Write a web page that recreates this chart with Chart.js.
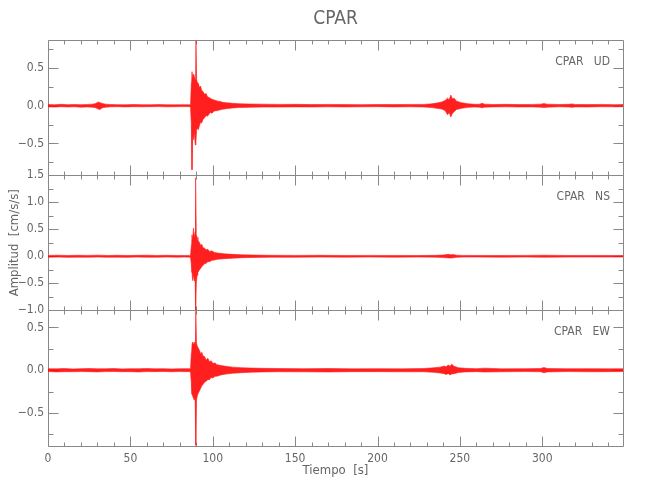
<!DOCTYPE html>
<html>
<head>
<meta charset="utf-8">
<title>CPAR</title>
<script src="https://cdn.jsdelivr.net/npm/chart.js@4.4.1/dist/chart.umd.min.js"></script>
<style>
    html, body { margin: 0; padding: 0; background: #fff; }
    #wrap { width: 650px; height: 500px; }
</style>
</head>
<body>
<div id="wrap"><canvas id="chart" width="650" height="500"></canvas></div>
<script>
// Tick labels
const xTicks = [0, 50, 100, 150, 200, 250, 300];
const udTicks = [-0.5, 0.0, 0.5];
const nsTicks = [-1.0, -0.5, 0.0, 0.5, 1.0, 1.5];
const ewTicks = [-0.5, 0.0, 0.5];

// Panel names (top to bottom)
const panelNames = ['CPAR   UD', 'CPAR   NS', 'CPAR   EW'];

// UD component: time [s] and upper/lower envelope of the trace [cm/s/s]
const udTime = [
    0, 4, 8, 12, 16, 20, 24, 27, 29, 30.5, 31.5, 33, 35, 38,
    42, 47, 52, 57, 62, 67, 72, 77, 82, 86.5,
    87, 87.4, 87.8, 88.3, 88.8, 89.4, 89.8, 90.2, 90.7, 91.2, 92, 92.6, 93.3, 94, 95,
    96, 96.8, 98.5, 99.5, 101, 103, 104.5, 106, 108, 112, 116, 122, 130, 140, 150, 160, 170, 180,
    190, 200, 210, 220, 228, 233, 236, 239, 241, 242.5, 243.5, 244.5, 245.5, 246.5, 248, 251,
    255, 259, 262, 263.5, 265, 270, 278, 286, 294, 299, 301, 303, 310, 316,
    318, 320, 328, 336, 344, 349
];
const udUpper = [
    0.016, 0.013, 0.018, 0.014, 0.016, 0.013, 0.017, 0.02, 0.03, 0.05, 0.04, 0.03, 0.02, 0.016,
    0.014, 0.013, 0.016, 0.013, 0.012, 0.015, 0.013, 0.012, 0.013, 0.013,
    0.3, 0.45, 0.36, 0.42, 0.39, 0.33, 0.86, 0.35, 0.3, 0.3, 0.24, 0.26, 0.2, 0.19, 0.15,
    0.16, 0.12, 0.1, 0.085, 0.075, 0.06, 0.057, 0.045, 0.04, 0.032, 0.026, 0.022, 0.02, 0.017, 0.018, 0.015, 0.017, 0.015,
    0.014, 0.016, 0.015, 0.017, 0.017, 0.025, 0.035, 0.05, 0.07, 0.1, 0.08, 0.14, 0.09, 0.1, 0.06, 0.04,
    0.025, 0.018, 0.02, 0.032, 0.02, 0.016, 0.018, 0.015, 0.017, 0.02, 0.028, 0.02, 0.016, 0.018,
    0.024, 0.016, 0.015, 0.017, 0.014, 0.015
];
const udLower = [
    -0.016, -0.018, -0.013, -0.017, -0.015, -0.019, -0.016, -0.02, -0.028, -0.045, -0.05, -0.028, -0.02, -0.015,
    -0.013, -0.016, -0.013, -0.015, -0.013, -0.012, -0.015, -0.013, -0.012, -0.013,
    -0.25, -0.85, -0.4, -0.45, -0.35, -0.52, -0.48, -0.32, -0.3, -0.32, -0.26, -0.22, -0.23, -0.185, -0.16,
    -0.13, -0.14, -0.09, -0.1, -0.07, -0.065, -0.055, -0.048, -0.04, -0.03, -0.024, -0.022, -0.018, -0.018, -0.016, -0.017, -0.015, -0.016,
    -0.015, -0.013, -0.016, -0.015, -0.017, -0.025, -0.035, -0.045, -0.065, -0.12, -0.09, -0.15, -0.1, -0.08, -0.05, -0.035,
    -0.022, -0.017, -0.02, -0.028, -0.019, -0.016, -0.015, -0.017, -0.016, -0.019, -0.025, -0.019, -0.015, -0.017,
    -0.022, -0.016, -0.017, -0.013, -0.015, -0.013
];

// NS component
const nsTime = [
    0, 6, 12, 18, 24, 30, 36, 42, 48, 54, 60, 66, 72, 78, 83, 86.5,
    87, 87.4, 87.8, 88.3, 88.8, 89.3, 89.6, 90, 90.5, 91, 92, 92.7, 93.4, 94, 95,
    96, 97, 98, 99.5, 101, 103, 107, 112, 118, 125, 135, 150, 165, 180, 195, 210,
    225, 235, 240, 243, 244.5, 246, 248, 252, 260, 275, 290, 301, 315, 330, 349
];
const nsUpper = [
    0.016, 0.02, 0.014, 0.018, 0.016, 0.021, 0.015, 0.018, 0.014, 0.017, 0.02, 0.015, 0.018, 0.014, 0.016, 0.016,
    0.2, 0.4, 0.3, 0.52, 0.35, 0.45, 1.45, 0.4, 0.35, 0.3, 0.25, 0.2, 0.22, 0.16, 0.15,
    0.12, 0.13, 0.09, 0.1, 0.07, 0.06, 0.045, 0.035, 0.026, 0.022, 0.018, 0.016, 0.018, 0.014, 0.016, 0.015,
    0.014, 0.017, 0.024, 0.035, 0.028, 0.032, 0.02, 0.016, 0.015, 0.014, 0.016, 0.02, 0.014, 0.015, 0.014
];
const nsLower = [
    -0.018, -0.015, -0.02, -0.016, -0.018, -0.014, -0.018, -0.016, -0.02, -0.015, -0.017, -0.018, -0.014, -0.017, -0.015, -0.016,
    -0.15, -0.3, -0.45, -0.35, -0.46, -0.4, -1.0, -0.5, -0.35, -0.3, -0.25, -0.22, -0.19, -0.17, -0.14,
    -0.13, -0.1, -0.1, -0.075, -0.07, -0.055, -0.045, -0.035, -0.026, -0.022, -0.017, -0.018, -0.015, -0.016, -0.014, -0.016,
    -0.015, -0.016, -0.024, -0.03, -0.034, -0.028, -0.02, -0.015, -0.014, -0.016, -0.014, -0.018, -0.015, -0.014, -0.015
];

// EW component
const ewTime = [
    0, 5, 10, 15, 20, 25, 30, 35, 40, 45, 50, 55, 60, 65, 70, 75, 80, 86.5,
    87, 87.4, 87.8, 88.3, 88.8, 89.3, 89.7, 90.1, 90.6, 91.2, 92, 92.7, 93.4, 94, 95,
    96, 97, 98, 99, 100, 101.5, 102.5, 105, 108, 112, 117, 123, 130, 140, 155, 170, 185,
    200, 215, 228, 234, 238, 240.5, 241.5, 243, 244, 245, 246.5, 249, 253, 260, 265, 275, 290,
    299, 301, 303, 315, 330, 340, 349
];
const ewUpper = [
    0.018, 0.016, 0.02, 0.015, 0.018, 0.02, 0.016, 0.017, 0.02, 0.015, 0.018, 0.017, 0.02, 0.016, 0.018, 0.015, 0.017, 0.018,
    0.2, 0.3, 0.33, 0.3, 0.33, 0.3, 0.69, 0.32, 0.28, 0.26, 0.23, 0.19, 0.21, 0.17, 0.16,
    0.12, 0.14, 0.1, 0.11, 0.08, 0.085, 0.065, 0.055, 0.045, 0.036, 0.03, 0.025, 0.022, 0.02, 0.018, 0.02, 0.016,
    0.018, 0.016, 0.02, 0.028, 0.036, 0.05, 0.04, 0.06, 0.045, 0.07, 0.045, 0.03, 0.022, 0.018, 0.024, 0.016, 0.018,
    0.02, 0.032, 0.02, 0.017, 0.018, 0.016, 0.017
];
const ewLower = [
    -0.016, -0.02, -0.017, -0.018, -0.016, -0.017, -0.02, -0.016, -0.015, -0.018, -0.017, -0.02, -0.016, -0.017, -0.015, -0.018, -0.016, -0.017,
    -0.15, -0.28, -0.3, -0.33, -0.35, -0.32, -0.88, -0.35, -0.3, -0.27, -0.24, -0.21, -0.18, -0.17, -0.14,
    -0.13, -0.11, -0.11, -0.085, -0.09, -0.07, -0.07, -0.055, -0.045, -0.036, -0.03, -0.024, -0.02, -0.018, -0.019, -0.02, -0.017,
    -0.017, -0.018, -0.018, -0.025, -0.032, -0.04, -0.05, -0.04, -0.055, -0.045, -0.04, -0.028, -0.02, -0.017, -0.021, -0.018, -0.016,
    -0.018, -0.03, -0.02, -0.016, -0.018, -0.017, -0.016
];

const FONT = '"Liberation Sans Narrow", "DejaVu Sans Condensed", "Liberation Sans", sans-serif';
const TEXT_COLOR = '#666';
const AXIS_COLOR = '#888';
const TRACE_COLOR = 'rgba(255, 0, 0, 0.88)';
const TRACE_EDGE = 'rgba(255, 30, 30, 0.6)';
const panelAxes = ['yUD', 'yNS', 'yEW'];

function formatTick(value) {
    return value.toFixed(1).replace('-', '\u2212');
}

// Two lines (upper, lower) filled in between
function traceDatasets(times, upper, lower, axisId) {
    return [
        {
            data: times.map((t, i) => ({ x: t, y: upper[i] })),
            yAxisID: axisId,
            borderColor: TRACE_EDGE,
            borderWidth: 1,
            fill: false
        },
        {
            data: times.map((t, i) => ({ x: t, y: lower[i] })),
            yAxisID: axisId,
            borderColor: TRACE_EDGE,
            backgroundColor: TRACE_COLOR,
            borderWidth: 1,
            fill: '-1'
        }
    ];
}

function yAxis(min, max, ticks, extra) {
    return Object.assign({
        type: 'linear',
        position: 'left',
        stack: 'panels',
        stackWeight: 1,
        min: min,
        max: max,
        grid: { display: false, drawTicks: false },
        border: { display: false },
        afterBuildTicks: scale => { scale.ticks = ticks.map(v => ({ value: v })); },
        afterFit: scale => { scale.width = 42; },
        ticks: {
            autoSkip: false,
            padding: 4,
            color: TEXT_COLOR,
            font: { family: FONT, size: 12 },
            callback: v => formatTick(v)
        }
    }, extra || {});
}

// Frames and inward ticks on all four sides of each panel, plus panel names
const panelFrames = {
    id: 'panelFrames',
    beforeDatasetsDraw(chart) {
        const ctx = chart.ctx;
        const area = chart.chartArea;
        const xs = chart.scales.x;
        const left = Math.round(area.left) + 0.5;
        const right = Math.round(area.right) + 0.5;
        ctx.save();
        ctx.strokeStyle = AXIS_COLOR;
        ctx.lineWidth = 1;
        panelAxes.forEach((id, p) => {
            const ys = chart.scales[id];
            const top = Math.round(ys.top) + 0.5;
            const bottom = Math.round(ys.bottom) + 0.5;
            ctx.beginPath();
            ctx.rect(left, top, right - left, bottom - top);
            // time ticks (every 10 s, long every 50 s)
            for (let t = 0; t <= xs.max; t += 10) {
                const px = Math.round(xs.getPixelForValue(t)) + 0.5;
                const len = t % 50 === 0 ? 10 : 4;
                ctx.moveTo(px, top); ctx.lineTo(px, top + len);
                ctx.moveTo(px, bottom); ctx.lineTo(px, bottom - len);
            }
            // amplitude ticks (every 0.25, long every 0.5)
            const start = Math.ceil(ys.min / 0.25) * 0.25;
            for (let v = start; v <= ys.max + 1e-9; v += 0.25) {
                const py = Math.round(ys.getPixelForValue(v)) + 0.5;
                const major = Math.abs(v / 0.5 - Math.round(v / 0.5)) < 1e-6;
                const len = major ? 10 : 5;
                ctx.moveTo(left, py); ctx.lineTo(left + len, py);
                ctx.moveTo(right, py); ctx.lineTo(right - len, py);
            }
            ctx.stroke();

            ctx.fillStyle = TEXT_COLOR;
            ctx.font = '12px ' + FONT;
            ctx.textAlign = 'right';
            ctx.textBaseline = 'middle';
            ctx.fillText(panelNames[p], area.right - 13, ys.top + 22);
        });
        ctx.restore();
    }
};

const ctx = document.getElementById('chart').getContext('2d');
new Chart(ctx, {
    type: 'line',
    data: {
        datasets: [
            ...traceDatasets(udTime, udUpper, udLower, 'yUD'),
            ...traceDatasets(nsTime, nsUpper, nsLower, 'yNS'),
            ...traceDatasets(ewTime, ewUpper, ewLower, 'yEW')
        ]
    },
    options: {
        responsive: false,
        animation: false,
        events: [],
        layout: { padding: { top: 0, left: 6, right: 27, bottom: 20 } },
        elements: {
            point: { radius: 0 },
            line: { tension: 0 }
        },
        plugins: {
            legend: { display: false },
            tooltip: { enabled: false },
            title: {
                display: true,
                text: 'CPAR',
                fullSize: false,
                color: TEXT_COLOR,
                font: { family: FONT, size: 19, weight: 'normal' },
                padding: { top: 8, bottom: 9.2 }
            }
        },
        scales: {
            x: {
                type: 'linear',
                position: 'bottom',
                min: 0,
                max: 349,
                grid: { display: false, drawTicks: false },
                border: { display: false },
                afterBuildTicks: scale => { scale.ticks = xTicks.map(v => ({ value: v })); },
                afterFit: scale => { scale.height = 34.5; },
                ticks: {
                    autoSkip: false,
                    maxRotation: 0,
                    padding: 6,
                    color: TEXT_COLOR,
                    font: { family: FONT, size: 12 }
                },
                title: {
                    display: true,
                    text: 'Tiempo  [s]',
                    color: TEXT_COLOR,
                    font: { family: FONT, size: 13 },
                    padding: { top: 0, bottom: 2 }
                }
            },
            // first listed sits at the bottom of the stack
            yEW: yAxis(-0.88, 0.70, ewTicks),
            yNS: yAxis(-1.0, 1.5, nsTicks, {
                title: {
                    display: true,
                    text: 'Amplitud  [cm/s/s]',
                    color: TEXT_COLOR,
                    font: { family: FONT, size: 13 },
                    padding: { top: 1, bottom: 0 }
                }
            }),
            yUD: yAxis(-0.92, 0.87, udTicks)
        }
    },
    plugins: [panelFrames]
});
</script>
</body>
</html>
